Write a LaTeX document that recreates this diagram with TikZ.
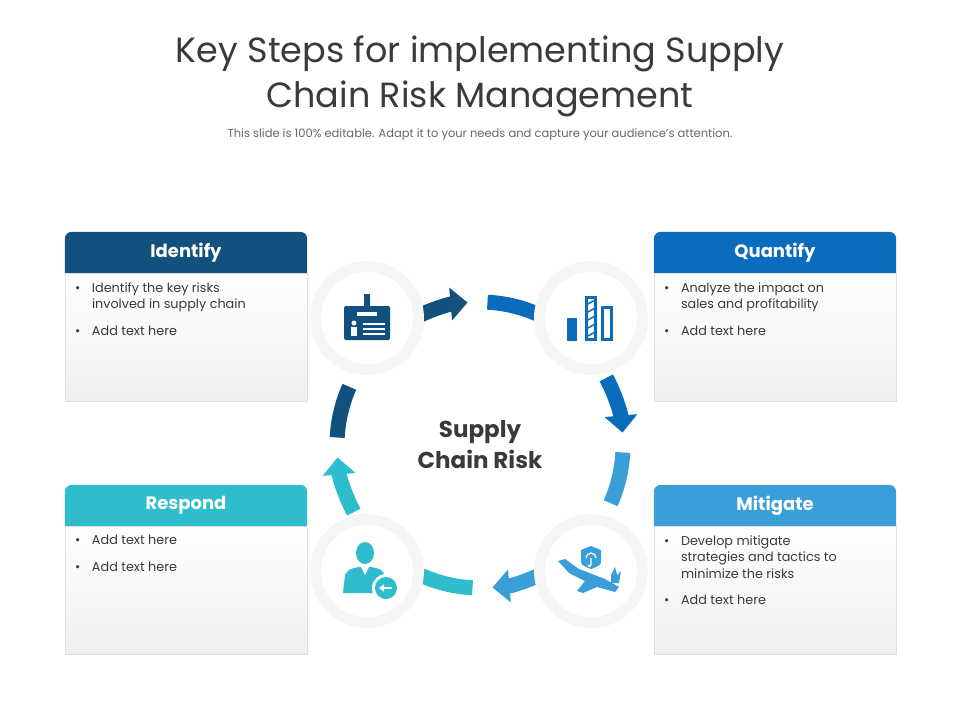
\documentclass[tikz,border=0pt]{standalone}
\usepackage{fontspec}
\setmainfont{Poppins}
\usetikzlibrary{arrows.meta,positioning}
\definecolor{navy}{HTML}{12507E}
\definecolor{qblue}{HTML}{0B6BBD}
\definecolor{mblue}{HTML}{3A9FD9}
\definecolor{teal}{HTML}{2DBDCC}
\definecolor{txt}{HTML}{3A3A3A}
\newcommand{\bitem}[1]{\par\hangindent=17pt\hangafter=1\noindent\makebox[17pt][l]{\textbullet}#1}
\newcommand{\bodytext}[1]{\parbox[t][116pt][t]{222pt}{\raggedright\vspace{3pt}#1}}
\newcommand{\headfill}[2]{\fill[#2] (#1.south west) [rounded corners=7pt]-- (#1.north west) -- (#1.north east) [sharp corners]-- (#1.south east) -- cycle;}
\begin{document}
\begin{tikzpicture}[x=1pt,y=-1pt,
    >= Triangle, % arrow head style
    head/.style={rectangle,minimum width=242pt,minimum height=41pt,text=white,
      font=\bfseries\fontsize{18}{20}\selectfont,inner sep=0pt},
    body/.style={draw=gray!25,top color=white,bottom color=gray!12,minimum width=242pt,
      minimum height=128pt,anchor=north,inner xsep=10pt,inner ysep=6pt,
      text=txt,font=\fontsize{12.8}{16.5}\selectfont},
    seg/.style={line width=15pt},
    ring/.style={circle,fill=gray!8,minimum size=114pt},
    hole/.style={circle,fill=white,minimum size=92pt}
  ]
\useasboundingbox (0,0) rectangle (960,720);

% title
\node[text=txt,align=center,font=\fontsize{35}{45}\selectfont] (title) at (480,76)
  {Key Steps for implementing Supply\\Chain Risk Management};
\node[text=gray!80!black,font=\fontsize{11.5}{13}\selectfont] (sub) at (480,135)
  {This slide is 100\% editable. Adapt it to your needs and capture your audience's attention.};

% boxes
\path (186,252.5) node[head] (IdH) {};
\headfill{IdH}{navy}
\node at (IdH) [head] {Identify};
\node[body,below=0pt of IdH.south] (IdB) {\bodytext{
  \bitem{Identify the key risks\newline involved in supply chain}\par\vspace{10pt}
  \bitem{Add text here}}};
\path (775,252.5) node[head] (QuH) {};
\headfill{QuH}{qblue}
\node at (QuH) [head] {Quantify};
\node[body,below=0pt of QuH.south] (QuB) {\bodytext{
  \bitem{Analyze the impact on\newline sales and profitability}\par\vspace{10pt}
  \bitem{Add text here}}};
\path (186,505.5) node[head] (ReH) {};
\headfill{ReH}{teal}
\node at (ReH) [head] {Respond};
\node[body,below=0pt of ReH.south] (ReB) {\bodytext{
  \bitem{Add text here}\par\vspace{10pt}
  \bitem{Add text here}}};
\path (775,505.5) node[head] (MiH) {};
\headfill{MiH}{mblue}
\node at (MiH) [head] {Mitigate};
\node[body,below=0pt of MiH.south] (MiB) {\bodytext{
  \bitem{Develop mitigate\newline strategies and tactics to\newline minimize the risks}\par\vspace{10pt}
  \bitem{Add text here}}};

% ring
\coordinate (C) at (480,445);
\foreach \s/\ca/\cb in {-118/navy/qblue,-28/qblue/mblue,62/mblue/teal,152/teal/navy}{
  \draw[seg,\ca,-{Triangle[width=32pt,length=17pt]}] (C) ++(\s:143) arc[start angle=\s,end angle=\s+23,radius=143];
  \draw[seg,\cb] (C) ++(\s+31:143) arc[start angle=\s+31,end angle=\s+52,radius=143];
}
\node[text=txt,align=center,font=\bfseries\fontsize{23}{31}\selectfont] (ctr) at (C) {Supply\\Chain Risk};

% icon circles
\foreach \n/\p in {I/{(367,318)},Q/{(591,318)},M/{(591,571)},R/{(367,571)}}{
  \node[ring] (\n) at \p {};
  \node[hole] at (\n) {};
}
% id badge
\fill[navy,rounded corners=1.5pt] ([shift={(-23,-12)}]I.center) rectangle ([shift={(23,22)}]I.center);
\fill[navy] ([shift={(-3,-24)}]I.center) rectangle ([shift={(3,-10)}]I.center);
\fill[white] ([shift={(-10,-6)}]I.center) rectangle ([shift={(10,-2)}]I.center);
\fill[white] ([shift={(-13,5)}]I.center) circle (2.5pt);
\fill[white] ([shift={(-16,9)}]I.center) rectangle ([shift={(-10,18)}]I.center);
\foreach \yy in {5,10,15} \fill[white] ([shift={(-4,\yy)}]I.center) rectangle ([shift={(18,\yy+2)}]I.center);
% chart
\fill[qblue] ([shift={(-24,0)}]Q.center) rectangle ([shift={(-14,23)}]Q.center);
\draw[qblue,line width=3pt] ([shift={(-5,-21)}]Q.center) rectangle ([shift={(4,21.5)}]Q.center);
\foreach \yy in {-18,-10,...,16} \draw[qblue,line width=1.5pt] ([shift={(-5,\yy+5)}]Q.center) -- ([shift={(4,\yy)}]Q.center);
\draw[qblue,line width=3pt] ([shift={(11,-11)}]Q.center) rectangle ([shift={(20,21.5)}]Q.center);
% plane and shield
\fill[mblue] ([shift={(-33,-10)}]M.center) -- ([shift={(-26,-12)}]M.center) -- ([shift={(-12,-2)}]M.center)
  -- ([shift={(14,8)}]M.center) -- ([shift={(28,16)}]M.center) -- ([shift={(24,21)}]M.center)
  -- ([shift={(6,16)}]M.center) -- ([shift={(-8,22)}]M.center) -- ([shift={(-14,20)}]M.center)
  -- ([shift={(-6,10)}]M.center) -- ([shift={(-22,2)}]M.center) -- cycle;
\fill[mblue] ([shift={(20,4)}]M.center) -- ([shift={(24,-4)}]M.center) -- ([shift={(26,4)}]M.center)
  -- ([shift={(30,0)}]M.center) -- ([shift={(28,12)}]M.center) -- ([shift={(20,12)}]M.center) -- cycle;
\fill[mblue] ([shift={(0,-25)}]M.center) -- ([shift={(10,-21)}]M.center) -- ([shift={(10,-12)}]M.center)
  .. controls ([shift={(10,-6)}]M.center) .. ([shift={(0,-2)}]M.center)
  .. controls ([shift={(-10,-6)}]M.center) .. ([shift={(-10,-12)}]M.center) -- ([shift={(-10,-21)}]M.center) -- cycle;
\draw[white,line width=1.2pt] ([shift={(-5,-13)}]M.center) arc[start angle=180,end angle=360,radius=5] ([shift={(0,-13)}]M.center) -- ++(0,7) arc[start angle=0,end angle=180,radius=1.5];
% person
\fill[teal] ([shift={(-2,-18)}]R.center) ellipse (9pt and 11pt);
\fill[teal] ([shift={(-24,22)}]R.center) -- ([shift={(-22,4)}]R.center) .. controls ([shift={(-18,-2)}]R.center) .. ([shift={(-8,-4)}]R.center)
  -- ([shift={(4,-4)}]R.center) .. controls ([shift={(14,-2)}]R.center) .. ([shift={(18,4)}]R.center) -- ([shift={(20,22)}]R.center) -- cycle;
\fill[white] ([shift={(-6,-4)}]R.center) -- ([shift={(2,-4)}]R.center) -- ([shift={(-2,4)}]R.center) -- cycle;
\fill[white] ([shift={(19,17)}]R.center) circle (14pt);
\fill[teal] ([shift={(19,17)}]R.center) circle (11pt);
\draw[white,line width=2pt,-{Triangle[width=7pt,length=5pt]}] ([shift={(25,17)}]R.center) -- ([shift={(12,17)}]R.center);
\end{tikzpicture}
\end{document}
